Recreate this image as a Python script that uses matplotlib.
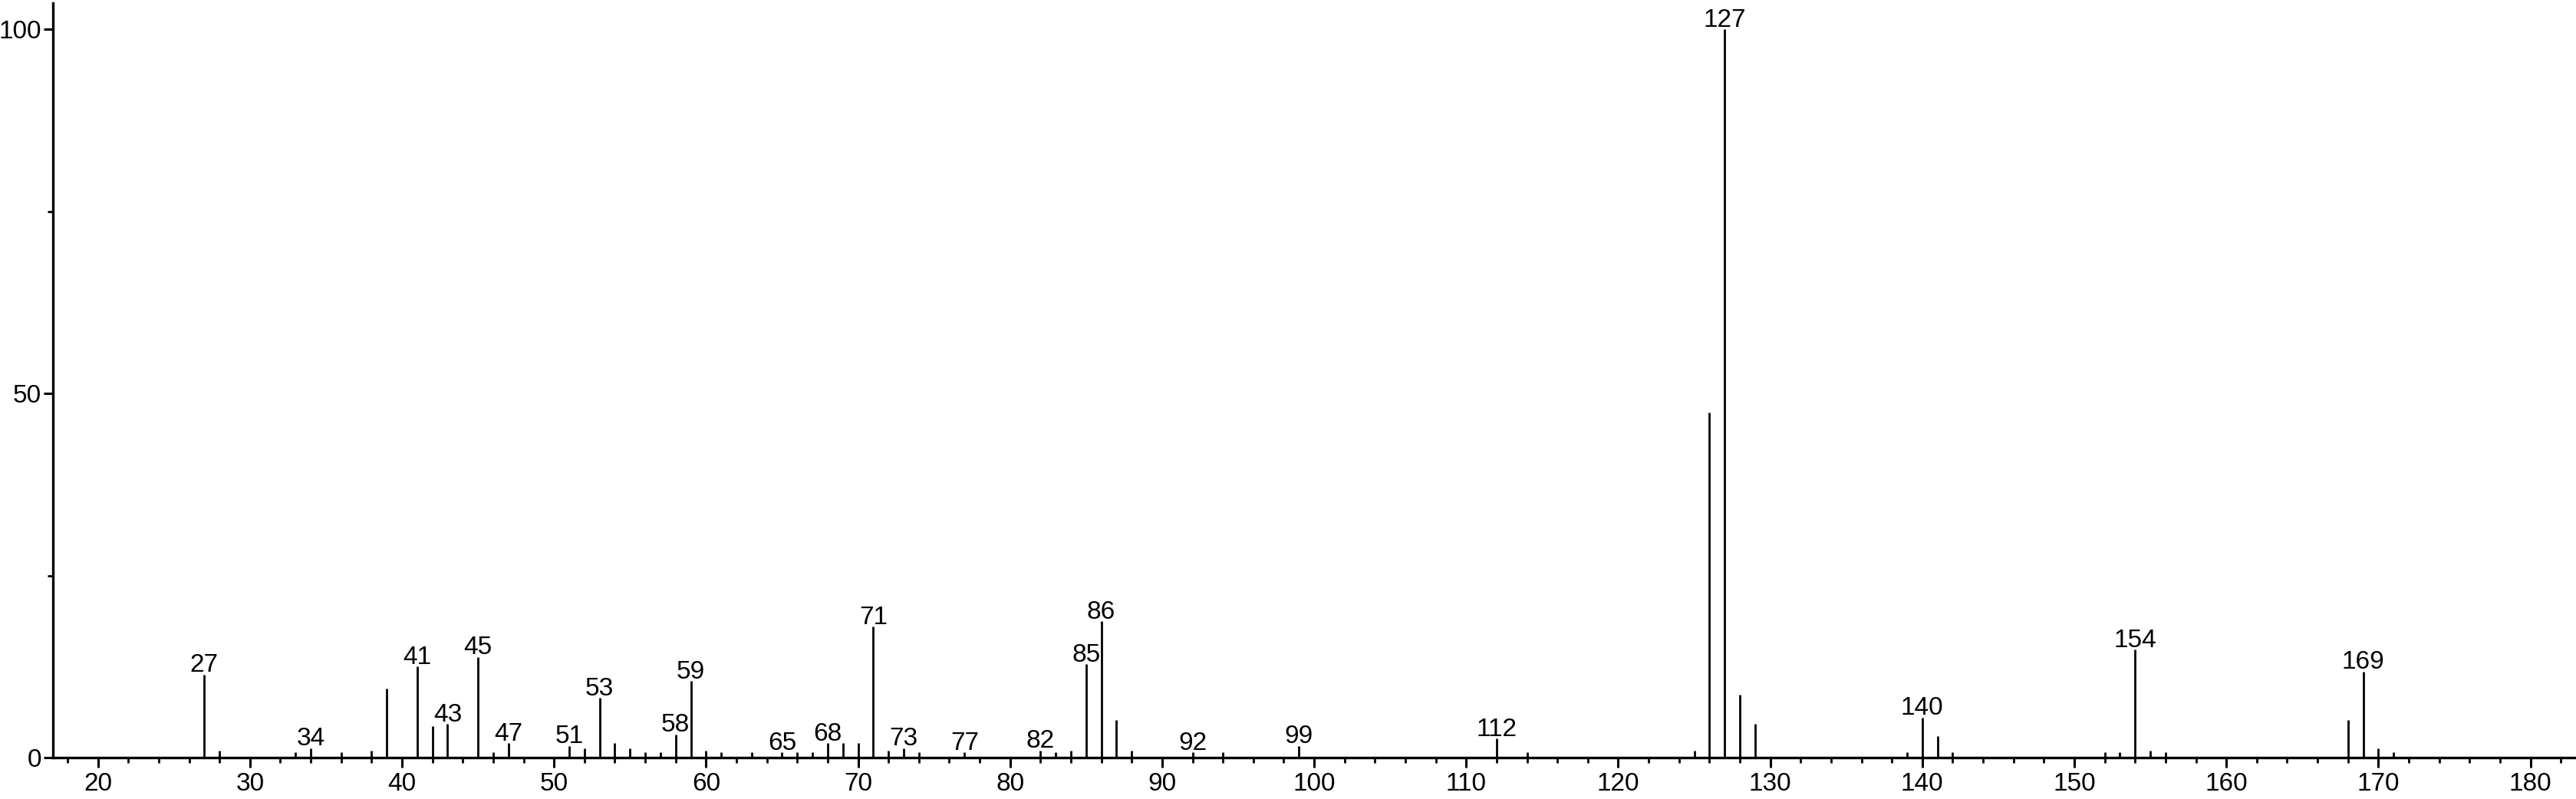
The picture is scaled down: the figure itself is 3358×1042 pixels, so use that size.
import matplotlib
matplotlib.use('Agg')
import matplotlib.pyplot as plt
from matplotlib.ticker import MultipleLocator

# peaks (m/z, relative intensity)
mz = [27, 28, 33, 34, 36, 38, 39, 41, 42, 43, 45, 46, 47,
      51, 52, 53, 54, 55, 56, 57, 58, 59, 60, 61, 63, 65, 66, 67, 68, 69, 70,
      71, 72, 73, 74, 77, 82, 83, 84, 85, 86, 87, 88, 92, 94, 99, 112, 114,
      125, 126, 127, 128, 129, 139, 140, 141, 142, 152, 153, 154, 155, 156,
      168, 169, 170, 171]
intensity = [11.4, 1.0, 0.7, 1.3, 0.7, 1.0, 9.5, 12.5, 4.3, 4.6, 13.8, 0.7, 2.0,
             1.6, 1.3, 8.2, 2.0, 1.3, 0.7, 0.7, 3.2, 10.5, 1.0, 0.7, 0.7, 0.7, 0.7, 0.7, 2.0, 2.0, 2.0,
             18.0, 1.0, 1.3, 0.7, 0.7, 1.0, 0.7, 1.0, 12.8, 18.7, 5.2, 1.0, 0.7, 0.7, 1.6, 2.6, 0.7,
             1.0, 47.4, 100.0, 8.6, 4.6, 0.7, 5.5, 2.9, 0.7, 0.7, 0.7, 14.8, 1.0, 0.7,
             5.2, 11.8, 1.3, 0.7]

labelled = [27, 34, 41, 43, 45, 47, 51, 53, 58, 59, 65, 68, 71, 73, 77,
            82, 85, 86, 92, 99, 112, 127, 140, 154, 169]

plt.rcParams['font.family'] = ['Liberation Sans', 'DejaVu Sans']

fig = plt.figure(figsize=(33.58, 10.42), dpi=100)
ax = fig.add_axes([0.0206, 0.0518, 0.9788, 0.9442])

ax.vlines(mz, 0, intensity, color='black', lw=2.0)

for m, v in zip(mz, intensity):
    if m in labelled:
        ax.annotate(str(m), (m, v), xytext=(0, 2.5), textcoords='offset points',
                    ha='center', va='baseline', fontsize=24)

ax.set_xlim(17.05, 182.9)
ax.set_ylim(0, 103.6)

ax.xaxis.set_major_locator(MultipleLocator(10))
ax.xaxis.set_minor_locator(MultipleLocator(2))
ax.set_yticks([0, 50, 100])
ax.yaxis.set_minor_locator(MultipleLocator(25))

for s in ['top', 'right']:
    ax.spines[s].set_visible(False)
for s in ['left', 'bottom']:
    ax.spines[s].set_linewidth(2.4)

ax.tick_params(axis='both', which='major', length=9, width=2.2, labelsize=24, pad=5)
ax.tick_params(axis='both', which='minor', length=5, width=2.0)
ax.tick_params(axis='y', pad=2)

fig.savefig('out.png', dpi=100)
